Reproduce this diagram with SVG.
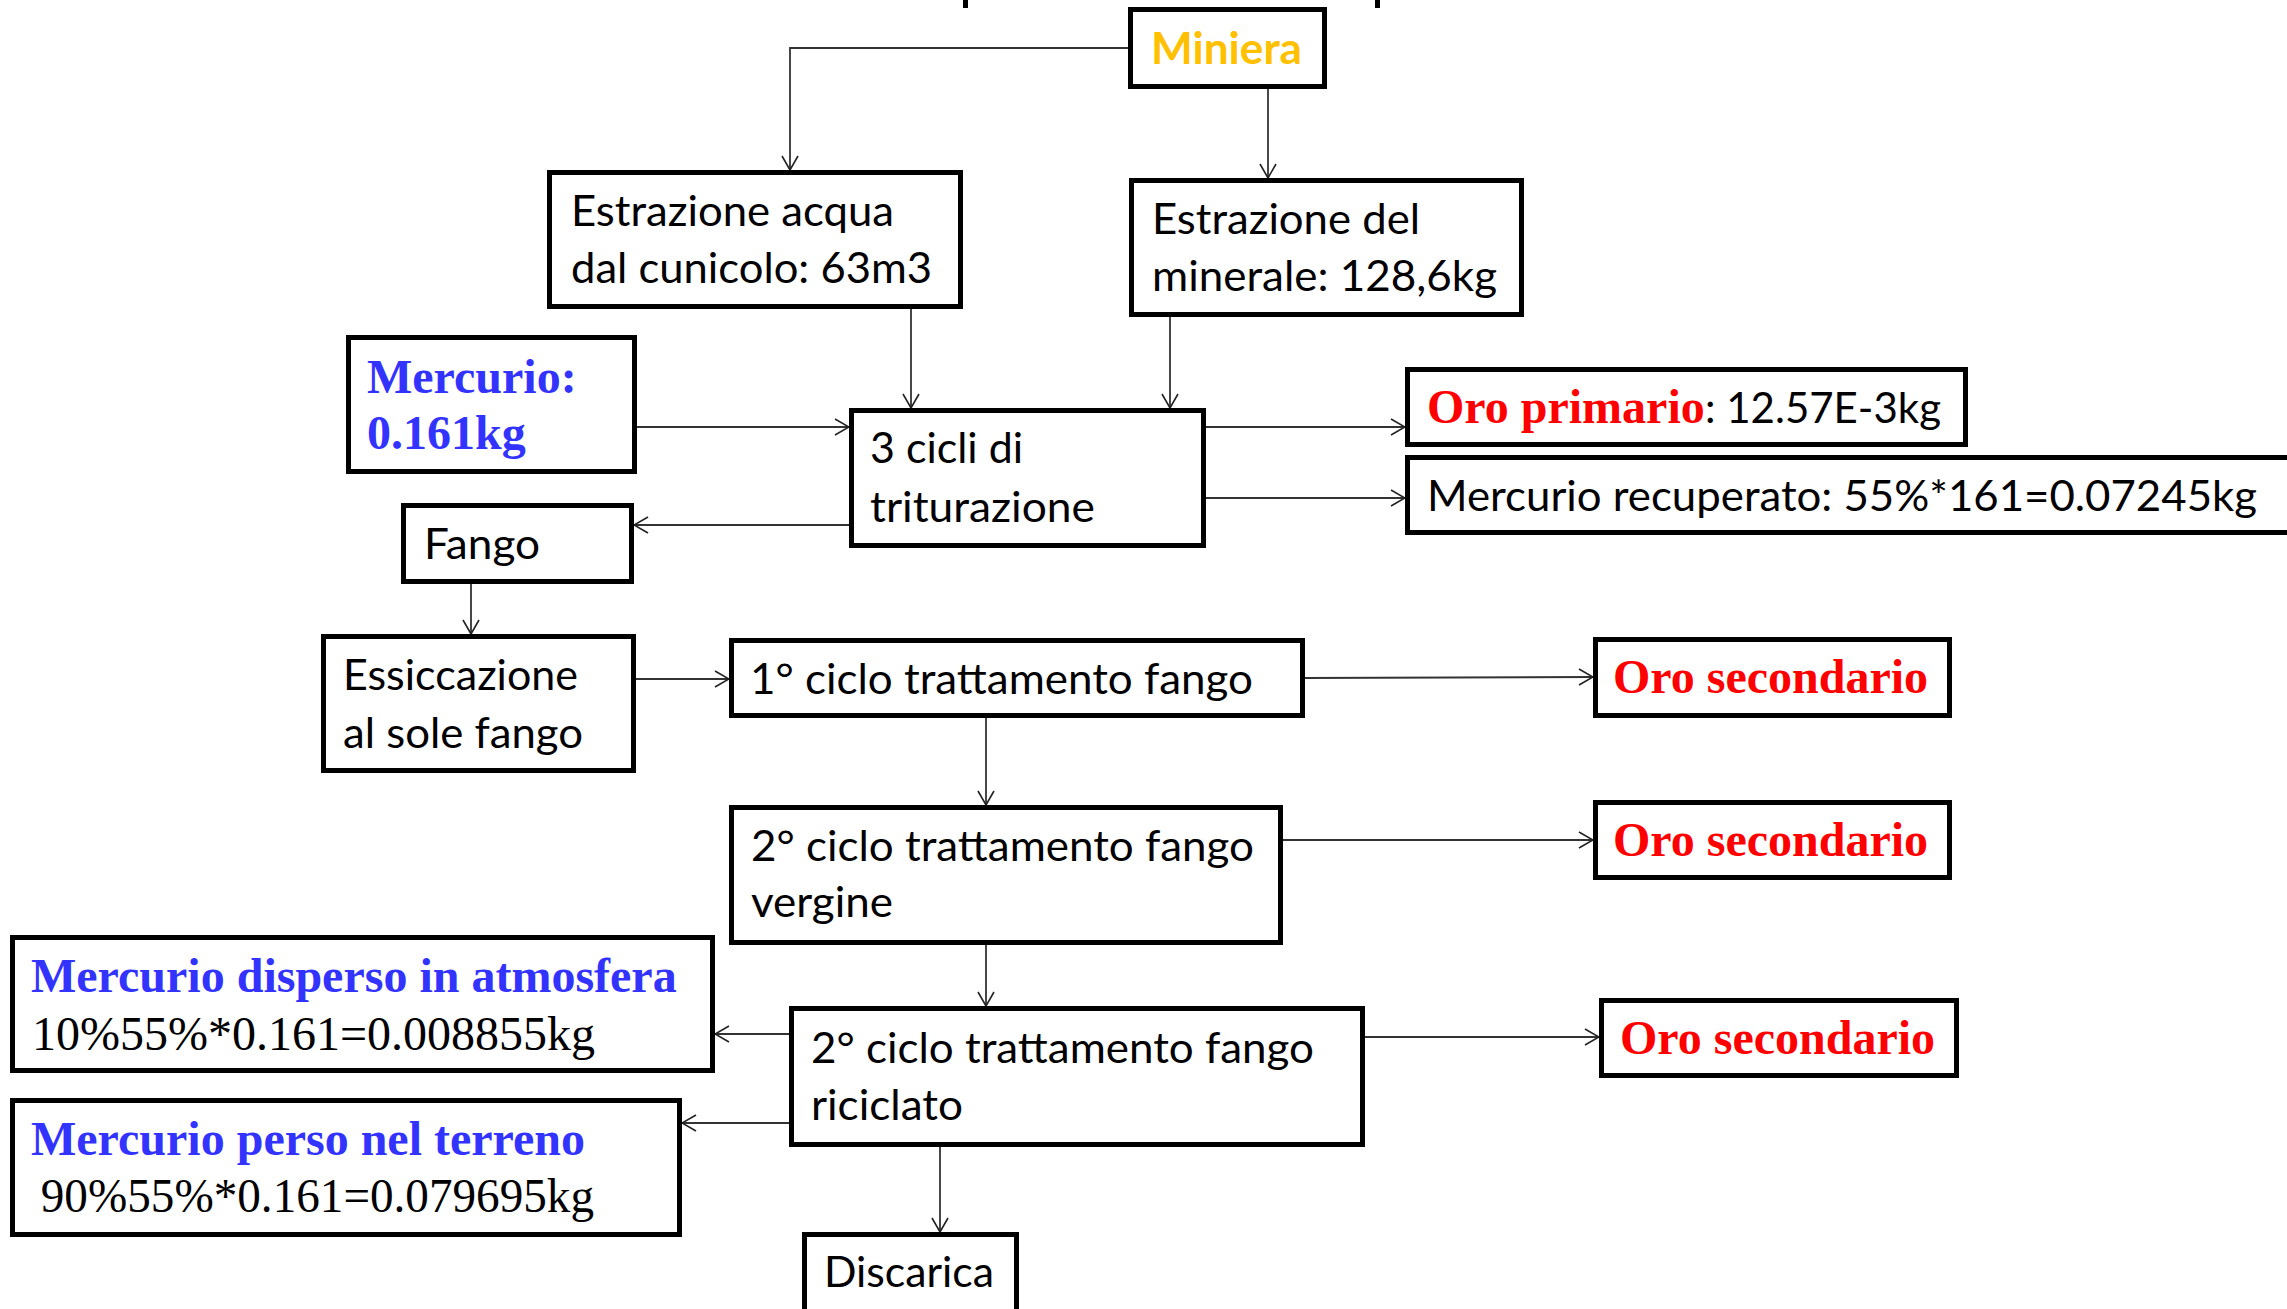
<svg xmlns="http://www.w3.org/2000/svg" width="2287" height="1309" viewBox="0 0 2287 1309">
<style>
.box{fill:#fff;stroke:#000;stroke-width:5;stroke-linejoin:miter}
.s{font-family:Lato,"Liberation Sans",sans-serif;font-size:43px;fill:#000}
.b{font-family:"Liberation Serif","Times New Roman",serif;font-size:48px;font-weight:bold}
.r{font-family:"Liberation Serif","Times New Roman",serif;font-size:48px;fill:#000}
.red{fill:#FF0000}
.blue{fill:#3333FF}
.conn path{fill:none;stroke:#333;stroke-width:1.8}
</style>
<defs>
<marker id="arr" viewBox="0 0 16 18" refX="15" refY="9" markerWidth="16" markerHeight="18" markerUnits="userSpaceOnUse" orient="auto">
<path d="M1,1 L15,9 L1,17" fill="none" stroke="#222" stroke-width="1.6"/>
</marker>
</defs>
<rect width="2287" height="1309" fill="#fff"/>
<rect x="963" y="0" width="5" height="8" fill="#000"/>
<rect x="1375" y="0" width="5" height="8" fill="#000"/>

<g class="conn">
<path d="M1128,48 H790 V170" marker-end="url(#arr)"/>
<path d="M1268,89 V178" marker-end="url(#arr)"/>
<path d="M911,309 V408" marker-end="url(#arr)"/>
<path d="M1170,317 V408" marker-end="url(#arr)"/>
<path d="M637,427 H849" marker-end="url(#arr)"/>
<path d="M849,525 H634" marker-end="url(#arr)"/>
<path d="M1206,427 H1405" marker-end="url(#arr)"/>
<path d="M1206,498 H1405" marker-end="url(#arr)"/>
<path d="M471,584 V634" marker-end="url(#arr)"/>
<path d="M636,679 H729" marker-end="url(#arr)"/>
<path d="M1305,678 L1593,677" marker-end="url(#arr)"/>
<path d="M986,718 V805" marker-end="url(#arr)"/>
<path d="M1283,840 H1593" marker-end="url(#arr)"/>
<path d="M986,945 V1006" marker-end="url(#arr)"/>
<path d="M789,1034 H715" marker-end="url(#arr)"/>
<path d="M789,1123 H682" marker-end="url(#arr)"/>
<path d="M940,1147 V1232" marker-end="url(#arr)"/>
<path d="M1365,1037 H1599" marker-end="url(#arr)"/>
</g>

<g id="miniera">
<rect class="box" x="1130.5" y="9.5" width="194" height="77"/>
<text class="s" x="1151" y="64" style="fill:#FFC000;font-weight:bold" textLength="151" lengthAdjust="spacingAndGlyphs">Miniera</text>
</g>
<g id="estrazione-acqua">
<rect class="box" x="549.5" y="172.5" width="411" height="134"/>
<text class="s" x="571" y="226" textLength="323" lengthAdjust="spacingAndGlyphs">Estrazione acqua</text>
<text class="s" x="571" y="283" textLength="361" lengthAdjust="spacingAndGlyphs">dal cunicolo: 63m3</text>
</g>
<g id="estrazione-minerale">
<rect class="box" x="1131.5" y="180.5" width="390" height="134"/>
<text class="s" x="1152" y="234" textLength="268" lengthAdjust="spacingAndGlyphs">Estrazione del</text>
<text class="s" x="1152" y="291" textLength="345" lengthAdjust="spacingAndGlyphs">minerale: 128,6kg</text>
</g>
<g id="mercurio">
<rect class="box" x="348.5" y="337.5" width="286" height="134"/>
<text class="b blue" x="367" y="393">Mercurio:</text>
<text class="b blue" x="367" y="449">0.161kg</text>
</g>
<g id="triturazione">
<rect class="box" x="851.5" y="410.5" width="352" height="135"/>
<text class="s" x="870" y="463" textLength="153" lengthAdjust="spacingAndGlyphs">3 cicli di</text>
<text class="s" x="870" y="522" textLength="225" lengthAdjust="spacingAndGlyphs">triturazione</text>
</g>
<g id="oro-primario">
<rect class="box" x="1407.5" y="369.5" width="558" height="75"/>
<text class="b red" x="1427" y="423">Oro primario</text>
<text class="s" x="1705" y="423" textLength="236" lengthAdjust="spacingAndGlyphs">: 12.57E-3kg</text>
</g>
<g id="mercurio-recuperato">
<rect class="box" x="1407.5" y="457.5" width="890" height="75"/>
<text class="s" x="1427" y="511" textLength="830" lengthAdjust="spacingAndGlyphs">Mercurio recuperato: 55%*161=0.07245kg</text>
</g>
<g id="fango">
<rect class="box" x="403.5" y="505.5" width="228" height="76"/>
<text class="s" x="424" y="559" textLength="116" lengthAdjust="spacingAndGlyphs">Fango</text>
</g>
<g id="essiccazione">
<rect class="box" x="323.5" y="636.5" width="310" height="134"/>
<text class="s" x="343" y="690" textLength="235" lengthAdjust="spacingAndGlyphs">Essiccazione</text>
<text class="s" x="343" y="748" textLength="240" lengthAdjust="spacingAndGlyphs">al sole fango</text>
</g>
<g id="ciclo1">
<rect class="box" x="731.5" y="640.5" width="571" height="75"/>
<text class="s" x="750" y="694" textLength="503" lengthAdjust="spacingAndGlyphs">1° ciclo trattamento fango</text>
</g>
<g id="oro-secondario-1">
<rect class="box" x="1595.5" y="639.5" width="354" height="76"/>
<text class="b red" x="1613" y="693">Oro secondario</text>
</g>
<g id="ciclo2-vergine">
<rect class="box" x="731.5" y="807.5" width="549" height="135"/>
<text class="s" x="751" y="861" textLength="503" lengthAdjust="spacingAndGlyphs">2° ciclo trattamento fango</text>
<text class="s" x="751" y="917" textLength="142" lengthAdjust="spacingAndGlyphs">vergine</text>
</g>
<g id="oro-secondario-2">
<rect class="box" x="1595.5" y="802.5" width="354" height="75"/>
<text class="b red" x="1613" y="856">Oro secondario</text>
</g>
<g id="ciclo2-riciclato">
<rect class="box" x="791.5" y="1008.5" width="571" height="136"/>
<text class="s" x="811" y="1063" textLength="503" lengthAdjust="spacingAndGlyphs">2° ciclo trattamento fango</text>
<text class="s" x="811" y="1120" textLength="152" lengthAdjust="spacingAndGlyphs">riciclato</text>
</g>
<g id="oro-secondario-3">
<rect class="box" x="1601.5" y="1000.5" width="355" height="75"/>
<text class="b red" x="1620" y="1054">Oro secondario</text>
</g>
<g id="mercurio-disperso">
<rect class="box" x="12.5" y="937.5" width="700" height="133"/>
<text class="b blue" x="31" y="992">Mercurio disperso in atmosfera</text>
<text class="r" x="32" y="1050">10%55%*0.161=0.008855kg</text>
</g>
<g id="mercurio-perso">
<rect class="box" x="12.5" y="1100.5" width="667" height="134"/>
<text class="b blue" x="31" y="1155">Mercurio perso nel terreno</text>
<text class="r" x="29" y="1212" xml:space="preserve" textLength="565" lengthAdjust="spacingAndGlyphs"> 90%55%*0.161=0.079695kg</text>
</g>
<g id="discarica">
<rect class="box" x="804.5" y="1234.5" width="212" height="90"/>
<text class="s" x="824" y="1287" textLength="170" lengthAdjust="spacingAndGlyphs">Discarica</text>
</g>
</svg>
